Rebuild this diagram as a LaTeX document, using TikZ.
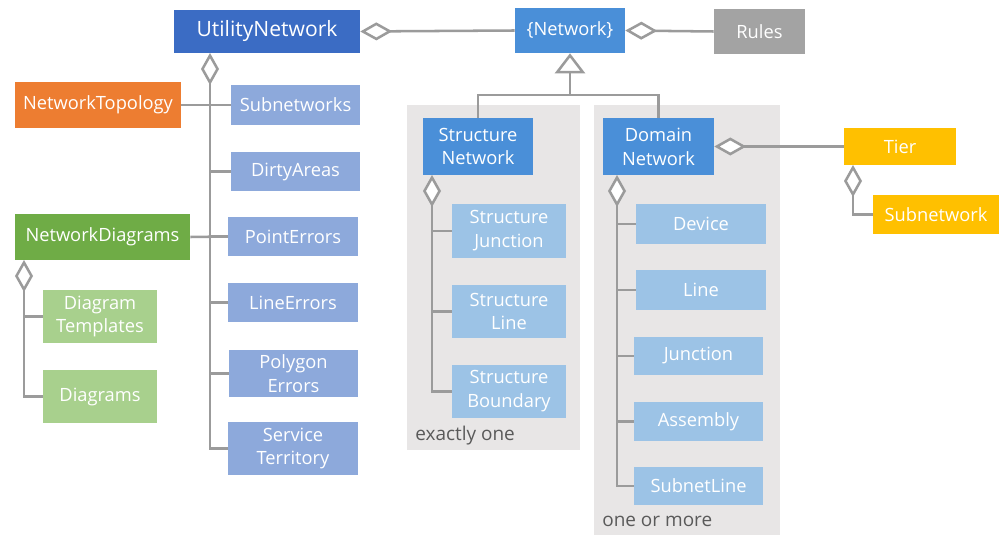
\documentclass[tikz,border=0pt]{standalone}
\usepackage{fontspec}
\setmainfont{Open Sans}
\usepackage{tikz}
\usetikzlibrary{arrows.meta}
\definecolor{koyuMavi}{HTML}{3B6CC4}
\definecolor{ortaMavi}{HTML}{4A8FD8}
\definecolor{morMavi}{HTML}{8DA9DB}
\definecolor{acikMavi}{HTML}{9CC3E6}
\definecolor{turuncu}{HTML}{ED7D31}
\definecolor{yesil}{HTML}{6FAC46}
\definecolor{acikYesil}{HTML}{A8D08D}
\definecolor{sari}{HTML}{FFC000}
\definecolor{kutuGri}{HTML}{A3A3A3}
\definecolor{panelGri}{HTML}{E8E6E6}
\definecolor{cizgiGri}{HTML}{9B9B9B}
\definecolor{yaziGri}{HTML}{5A5A5A}

\begin{document}
\begin{tikzpicture}[x=0.025cm,y=-0.025cm,
  kutu/.style={text=white,inner sep=0pt,align=center,font=\fontsize{13}{17}\selectfont},
  cizgi/.style={draw=cizgiGri,line width=1.8pt},
  sahip/.style={cizgi,{Diamond[fill=white,length=0.8cm,width=0.45cm]}-},
  kalitim/.style={cizgi,-{Triangle[fill=white,length=0.5cm,width=0.75cm]}},
  notyazi/.style={text=yaziGri,anchor=west,inner sep=0pt,font=\fontsize{13.5}{15}\selectfont}]
\useasboundingbox (0,0) rectangle (999,544);
\fill[panelGri] (407,105) rectangle (580,450);
\fill[panelGri] (594,105) rectangle (780,535);
\node[kutu,fill=koyuMavi,minimum width=4.65cm,minimum height=1.075cm,font=\fontsize{15}{17}\selectfont] (util) at (267,31.5) {UtilityNetwork};
\node[kutu,fill=ortaMavi,minimum width=2.75cm,minimum height=1.125cm] (net) at (570,30.5) {\{Network\}};
\node[kutu,fill=kutuGri,minimum width=2.275cm,minimum height=1.125cm] (rules) at (759.5,31.5) {Rules};
\node[kutu,fill=ortaMavi,minimum width=2.75cm,minimum height=1.425cm] (yapiag) at (478,146.5) {Structure\\Network};
\node[kutu,fill=ortaMavi,minimum width=2.775cm,minimum height=1.425cm] (alanag) at (658.5,146.5) {Domain\\Network};
\node[kutu,fill=acikMavi,minimum width=2.85cm,minimum height=1.35cm] (yjunc) at (509,231) {Structure\\Junction};
\node[kutu,fill=acikMavi,minimum width=2.85cm,minimum height=1.33cm] (yline) at (509,311.5) {Structure\\Line};
\node[kutu,fill=acikMavi,minimum width=2.85cm,minimum height=1.33cm] (ybound) at (509,391.5) {Structure\\Boundary};
\node[notyazi] (tekyazi) at (415,436) {exactly one};
\node[kutu,fill=acikMavi,minimum width=3.25cm,minimum height=1cm] (device) at (701,224) {Device};
\node[kutu,fill=acikMavi,minimum width=3.25cm,minimum height=1cm] (line) at (701,290) {Line};
\node[kutu,fill=acikMavi,minimum width=3.225cm,minimum height=0.95cm] (junction) at (698.5,356) {Junction};
\node[kutu,fill=acikMavi,minimum width=3.225cm,minimum height=0.975cm] (assembly) at (698.5,421.5) {Assembly};
\node[kutu,fill=acikMavi,minimum width=3.225cm,minimum height=0.95cm] (subnetline) at (698.5,486) {SubnetLine};
\node[notyazi] (cokyazi) at (602,521) {one or more};
\node[kutu,fill=sari,minimum width=2.8cm,minimum height=0.925cm] (tier) at (900,146.5) {Tier};
\node[kutu,fill=sari,minimum width=3.15cm,minimum height=0.975cm] (subnetwork) at (936,214.5) {Subnetwork};
\node[kutu,fill=turuncu,minimum width=4.15cm,minimum height=1.15cm] (topo) at (98,105) {NetworkTopology};
\node[kutu,fill=yesil,minimum width=4.375cm,minimum height=1.15cm] (diyag) at (102.5,237) {NetworkDiagrams};
\node[kutu,fill=acikYesil,minimum width=2.85cm,minimum height=1.325cm] (templ) at (100,316.5) {Diagram\\Templates};
\node[kutu,fill=acikYesil,minimum width=2.85cm,minimum height=1.325cm] (diags) at (100,396.5) {Diagrams};
\node[kutu,fill=morMavi,minimum width=3.225cm,minimum height=1cm] (subnets) at (295.5,105) {Subnetworks};
\node[kutu,fill=morMavi,minimum width=3.225cm,minimum height=0.975cm] (dirty) at (295.5,171.5) {DirtyAreas};
\node[kutu,fill=morMavi,minimum width=3.25cm,minimum height=0.975cm] (pointerr) at (293,236.5) {PointErrors};
\node[kutu,fill=morMavi,minimum width=3.25cm,minimum height=0.975cm] (lineerr) at (293,302.5) {LineErrors};
\node[kutu,fill=morMavi,minimum width=3.225cm,minimum height=1.175cm] (polyerr) at (293.5,373.5) {Polygon\\Errors};
\node[kutu,fill=morMavi,minimum width=3.25cm,minimum height=1.325cm] (svcterr) at (293,448.5) {Service\\Territory};
\coordinate (ugovde) at (210,53);
\coordinate (dgovde) at (24,260);
\coordinate (ygovde) at (432,175);
\coordinate (agovde) at (617,175);
\coordinate (tgovde) at (853,165);
\coordinate (ayrim) at (570,95);
\draw[sahip] (util.east) -- (net.west);
\draw[sahip] (net.east) -- (rules.west);
\draw[sahip] (alanag.east) -- (tier.west);
\draw[kalitim] (yapiag.north) |- (ayrim) -- (net.south);
\draw[cizgi] (alanag.north) |- (ayrim);
\draw[sahip] (ugovde) |- (svcterr.west);
\foreach \n in {dirty,pointerr,lineerr,polyerr}
  \draw[cizgi] (\n.west) -- (\n.west -| ugovde);
\draw[cizgi] (topo.east) -- (subnets.west);
\draw[cizgi] (diyag.east) -- (pointerr.west);
\draw[sahip] (dgovde) |- (diags.west);
\draw[cizgi] (templ.west) -- (templ.west -| dgovde);
\draw[sahip] (ygovde) |- (ybound.west);
\foreach \n in {yjunc,yline}
  \draw[cizgi] (\n.west) -- (\n.west -| ygovde);
\draw[sahip] (agovde) |- (subnetline.west);
\foreach \n in {device,line,junction,assembly}
  \draw[cizgi] (\n.west) -- (\n.west -| agovde);
\draw[sahip] (tgovde) |- (subnetwork.west);
\end{tikzpicture}
\end{document}
